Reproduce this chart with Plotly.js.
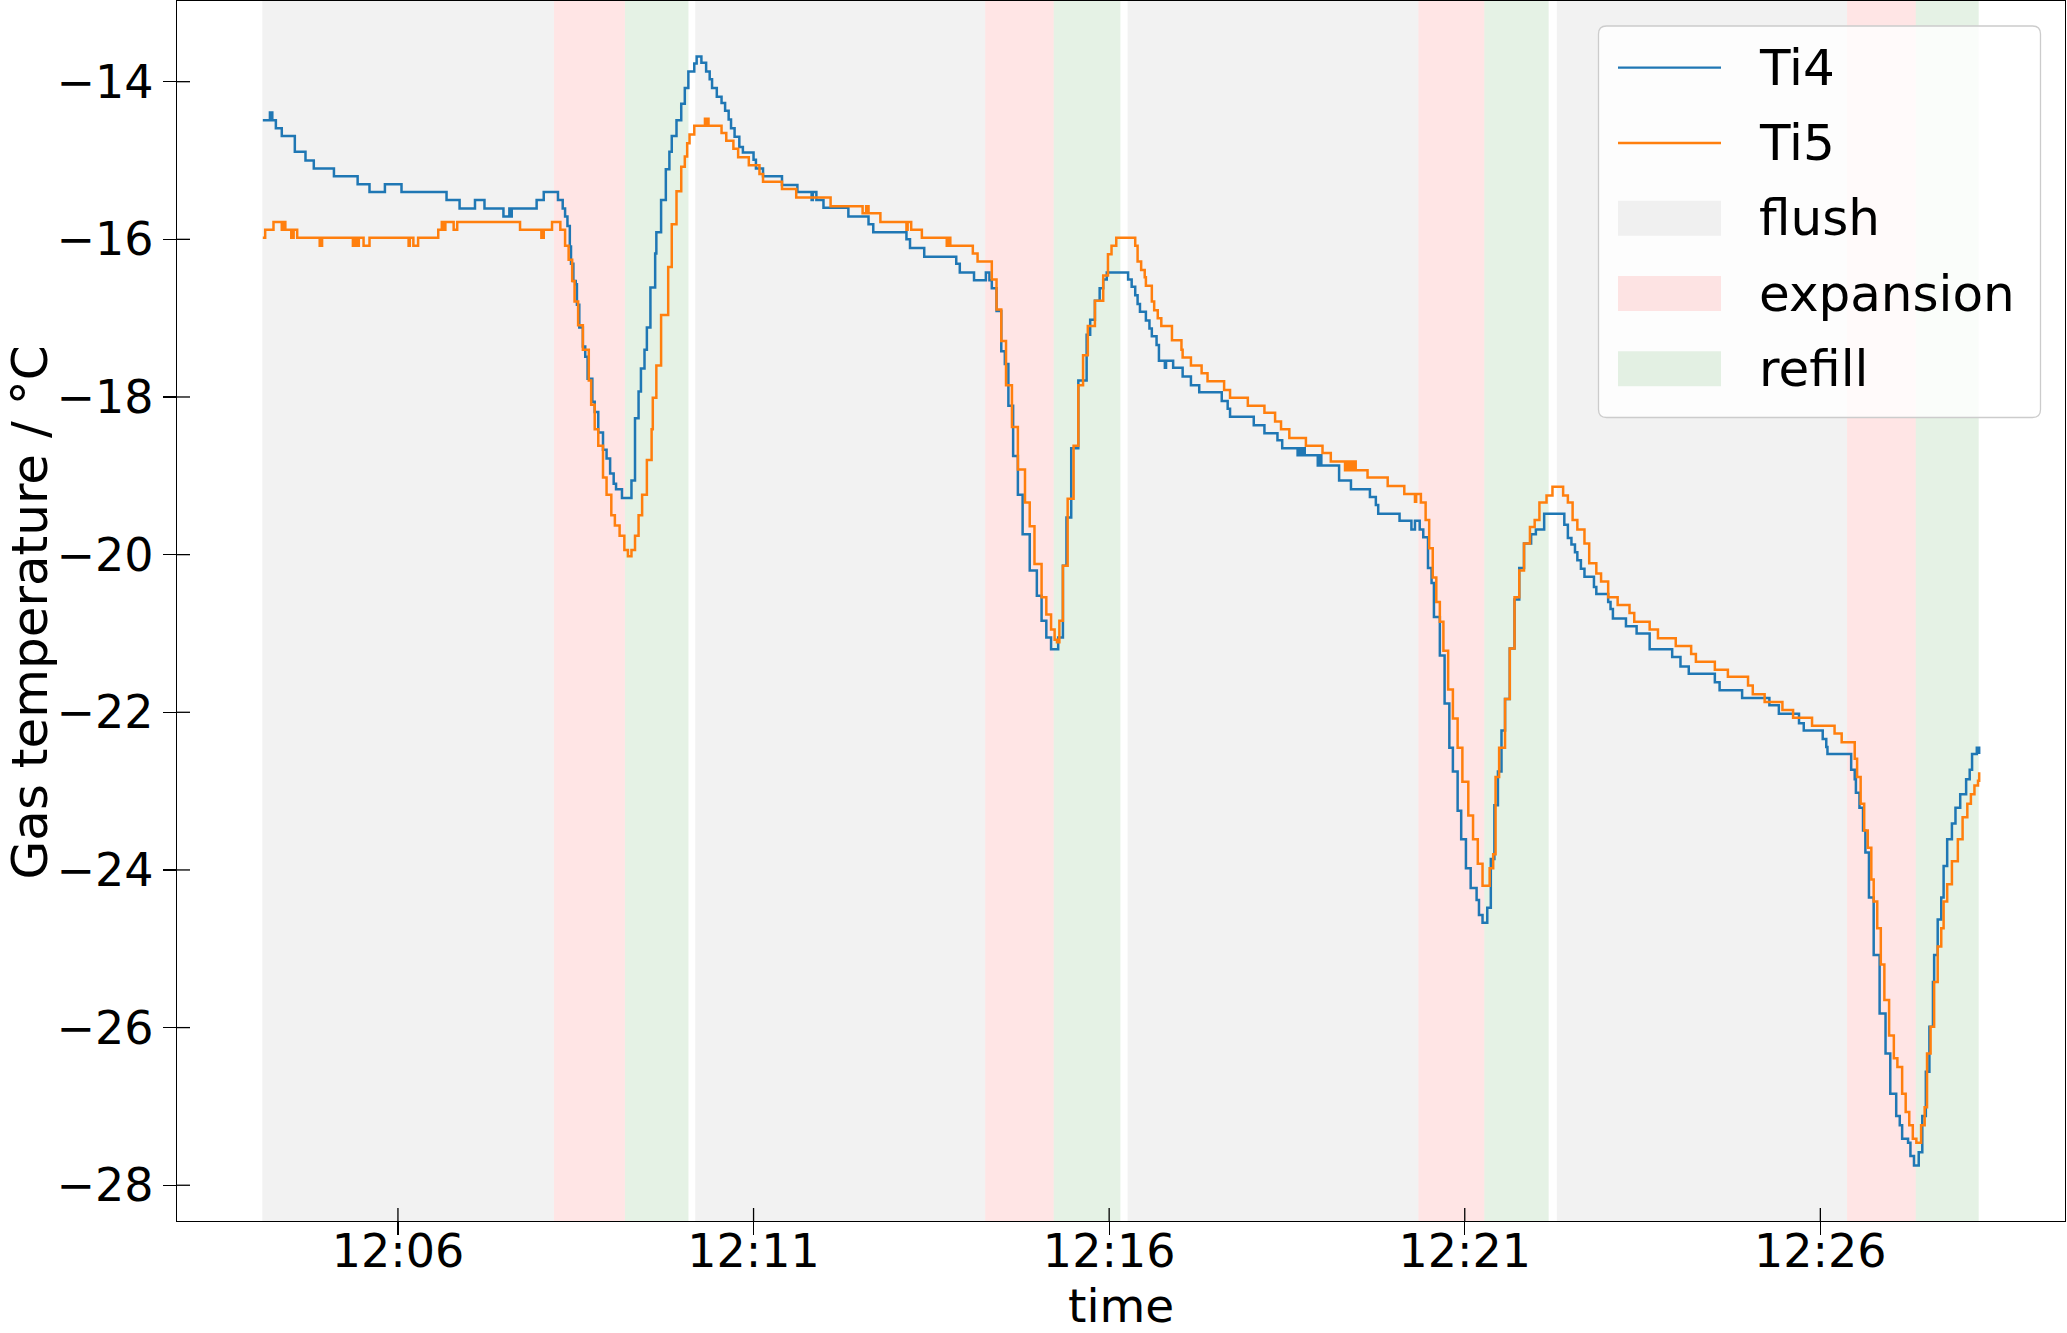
<!DOCTYPE html>
<html>
<head>
<meta charset="utf-8">
<script src="https://cdn.plot.ly/plotly-3.0.1.min.js"></script>
<style>html,body{margin:0;padding:0;background:#fff;}#chart{width:2067px;height:1333px;}</style>
</head>
<body>
<div id="chart"></div>
<script>
// ---------------- DATA (seconds after 12:00:00, temperature in °C) ----------------
const DAY = '2024-01-01';
const seriesNames = ['Ti4', 'Ti5'];
const phaseNames = ['flush', 'expansion', 'refill'];
const xTickLabels = ['12:06', '12:11', '12:16', '12:21', '12:26'];
const yTickValues = [-28, -26, -24, -22, -20, -18, -16, -14];
const xTitle = 'time';
const yTitle = 'Gas temperature / °C';

// phase boundaries (seconds after 12:00)
const flushStart     = [245.6, 610.8, 975.6, 1337.7];
const expansionStart = [491.6, 855.4, 1220.9, 1582.5];
const refillStart    = [551.5, 913.2, 1276.5, 1640.5];
const refillEnd      = [605.1, 969.5, 1330.8, 1693.6];

const ti4Time = [
  246,252,254,257,262,273,282,289,306,326,336,349,363,401,412,425,433,449,454,455,456,477,483,
  495,499,501,503,505,506,508,510,511,513,516,518,520,524,526,529,533,536,539,542,544,549,557,560,563,565,568,570,573,577,578,582,586,589,591,595,599,602,605,610,612,
  616,620,623,625,629,633,636,639,641,644,648,651,660,662,668,684,697,709,710,713,719,740,757,761,789,792,804,831,834,846,856,859,
  861,865,869,872,875,879,883,887,893,899,903,907,911,917,921,924,928,934,941,944,948,952,955,958,
  976,979,982,984,986,991,994,996,1000,1002,1007,1008,1014,1022,1029,1036,1055,1060,1062,1082,1091,1102,1106,1119,1121,1123,1124,1125,1136,1138,1139,1154,1164,1180,1185,1187,1205,1215,1218,1222,1225,
  1229,1232,1234,1239,1243,1247,1250,1254,1257,1261,1265,1270,1272,1275,1279,1282,1285,1288,1291,1294,1298,1302,1306,1310,1316,1320,1327,
  1344,1347,1350,1353,1355,1358,1361,1369,1371,1381,1383,1385,1396,1405,1416,1435,1442,1449,1471,1475,1494,1517,1525,1542,1546,1562,1565,1566,
  1586,1589,1590,1593,1596,1598,1601,1605,1610,1615,1619,1624,1627,1629,1634,1636,1639,1643,1646,1649,1652,1655,1656,1659,1662,1664,1667,1671,1674,1678,1683,1686,1688,1692,1694
];
const ti4Temp = [
  -14.49,-14.39,-14.49,-14.59,-14.69,-14.89,-15.00,-15.10,-15.20,-15.30,-15.40,-15.30,-15.40,-15.50,-15.61,-15.50,-15.61,-15.71,-15.61,-15.71,-15.61,-15.50,-15.40,
  -15.50,-15.61,-15.71,-15.83,-16.09,-16.31,-16.53,-16.57,-16.83,-17.12,-17.36,-17.49,-17.77,-18.06,-18.19,-18.45,-18.67,-18.78,-18.97,-19.10,-19.17,-19.28,-19.06,-18.27,-17.93,-17.64,-17.40,-17.12,-16.61,-16.18,-15.91,-15.50,-15.11,-14.89,-14.69,-14.49,-14.28,-14.08,-13.87,-13.77,-13.68,
  -13.76,-13.87,-13.97,-14.08,-14.19,-14.27,-14.37,-14.48,-14.59,-14.70,-14.83,-14.90,-14.99,-15.10,-15.20,-15.31,-15.40,-15.50,-15.40,-15.50,-15.60,-15.71,-15.81,-15.91,-16.00,-16.11,-16.22,-16.31,-16.42,-16.52,-16.42,-16.52,
  -16.62,-16.91,-17.42,-17.58,-18.11,-18.75,-19.24,-19.74,-20.20,-20.52,-20.84,-21.05,-21.20,-21.05,-20.14,-19.53,-18.65,-17.79,-17.21,-17.02,-16.78,-16.62,-16.51,-16.42,
  -16.51,-16.60,-16.71,-16.82,-16.92,-17.03,-17.13,-17.23,-17.34,-17.54,-17.63,-17.54,-17.63,-17.74,-17.85,-17.94,-18.05,-18.15,-18.25,-18.36,-18.46,-18.55,-18.65,-18.74,-18.65,-18.74,-18.65,-18.74,-18.87,-18.74,-18.87,-19.06,-19.17,-19.27,-19.37,-19.48,-19.57,-19.68,-19.57,-19.68,-19.78,
  -20.17,-20.36,-20.79,-21.28,-21.89,-22.45,-22.75,-23.25,-23.61,-23.98,-24.23,-24.38,-24.57,-24.67,-24.48,-23.86,-23.18,-22.75,-22.23,-21.83,-21.19,-20.57,-20.17,-19.86,-19.74,-19.68,-19.48,
  -19.62,-19.79,-19.87,-19.97,-20.07,-20.18,-20.28,-20.41,-20.50,-20.60,-20.69,-20.81,-20.91,-21.00,-21.20,-21.30,-21.42,-21.51,-21.62,-21.72,-21.82,-21.91,-22.02,-22.14,-22.23,-22.34,-22.44,-22.53,
  -22.73,-22.85,-23.02,-23.21,-23.50,-23.78,-24.35,-25.08,-25.82,-26.33,-26.84,-27.12,-27.24,-27.41,-27.46,-27.63,-27.75,-27.58,-27.12,-26.56,-25.99,-25.42,-25.08,-24.63,-24.35,-23.95,-23.61,-23.41,-23.21,-23.04,-22.85,-22.73,-22.53,-22.45,-22.53
];

const ti5Time = [
  246,248,255,262,263,265,270,272,275,294,296,322,324,325,327,331,336,369,370,373,377,394,397,398,400,407,410,463,481,483,490,
  497,501,504,507,509,512,516,521,523,526,529,533,536,540,543,547,551,554,557,560,563,566,570,574,575,578,582,588,591,595,599,602,604,606,610,619,620,621,622,
  633,637,643,647,656,665,668,684,696,725,752,755,757,767,789,790,793,802,823,824,826,845,849,
  861,865,869,873,878,883,889,893,897,903,907,911,914,916,918,921,925,930,934,938,942,948,955,959,962,966,
  982,984,987,990,991,996,998,1001,1004,1013,1021,1022,1029,1038,1043,1057,1062,1077,1091,1100,1105,1112,1126,1140,1147,1159,1160,1162,1164,1166,1167,1168,1178,1195,1209,1218,1219,1223,
  1227,1230,1233,1236,1239,1242,1246,1250,1254,1258,1263,1267,1271,1275,1281,1284,1286,1289,1294,1298,1302,1306,1310,1315,1319,1323,1329,1334,
  1343,1347,1351,1355,1361,1365,1371,1375,1381,1389,1399,1403,1416,1423,1438,1451,1455,1471,1482,1499,1503,1513,1528,1537,1553,1572,1578,
  1589,1591,1594,1597,1600,1603,1605,1608,1611,1614,1618,1622,1625,1629,1632,1635,1638,1641,1645,1648,1650,1653,1656,1659,1662,1664,1667,1671,1676,1680,1684,1687,1690,1693,1694
];
const ti5Temp = [
  -15.98,-15.88,-15.78,-15.88,-15.78,-15.88,-15.98,-15.88,-15.98,-16.08,-15.98,-16.08,-15.98,-16.08,-15.98,-16.08,-15.98,-16.08,-15.98,-16.08,-15.98,-15.88,-15.78,-15.88,-15.78,-15.88,-15.78,-15.88,-15.98,-15.88,-15.78,
  -15.88,-16.08,-16.26,-16.53,-16.79,-17.09,-17.40,-17.79,-18.10,-18.41,-18.62,-19.02,-19.24,-19.50,-19.63,-19.76,-19.94,-20.02,-19.94,-19.76,-19.50,-19.24,-18.80,-18.41,-18.01,-17.60,-16.96,-16.35,-15.81,-15.39,-15.08,-14.95,-14.78,-14.67,-14.56,-14.47,-14.56,-14.47,-14.56,
  -14.65,-14.75,-14.85,-14.96,-15.06,-15.17,-15.27,-15.36,-15.47,-15.58,-15.67,-15.58,-15.67,-15.78,-15.88,-15.78,-15.88,-15.98,-16.08,-15.98,-16.08,-16.18,-16.28,
  -16.51,-16.89,-17.29,-17.85,-18.38,-18.92,-19.34,-19.64,-20.12,-20.54,-20.76,-20.95,-21.08,-21.11,-20.84,-20.14,-19.29,-18.62,-17.85,-17.47,-17.10,-16.78,-16.46,-16.19,-16.08,-15.98,
  -16.08,-16.28,-16.39,-16.48,-16.59,-16.79,-16.90,-17.00,-17.10,-17.28,-17.40,-17.50,-17.60,-17.70,-17.80,-17.91,-18.01,-18.11,-18.20,-18.31,-18.41,-18.52,-18.62,-18.71,-18.82,-18.93,-18.82,-18.93,-18.82,-18.93,-18.82,-18.93,-19.02,-19.13,-19.23,-19.33,-19.23,-19.34,
  -19.56,-19.92,-20.29,-20.60,-20.85,-21.22,-21.71,-22.08,-22.45,-22.88,-23.31,-23.61,-23.92,-24.20,-23.98,-23.80,-22.82,-22.45,-21.83,-21.19,-20.54,-20.20,-19.86,-19.65,-19.56,-19.34,-19.25,-19.14,
  -19.25,-19.34,-19.56,-19.68,-19.86,-20.11,-20.24,-20.34,-20.54,-20.64,-20.74,-20.85,-20.95,-21.06,-21.16,-21.26,-21.36,-21.46,-21.55,-21.66,-21.77,-21.87,-21.97,-22.07,-22.17,-22.27,-22.38,
  -22.59,-22.82,-23.16,-23.50,-23.72,-24.12,-24.40,-24.74,-25.20,-25.65,-26.10,-26.39,-26.50,-26.84,-27.07,-27.24,-27.41,-27.46,-27.24,-27.01,-26.33,-25.99,-25.42,-24.97,-24.74,-24.40,-24.18,-23.89,-23.61,-23.33,-23.16,-23.04,-22.93,-22.87,-22.76
];

// ---------------- STYLE ----------------
const seriesColors = ['#1f77b4', '#ff7f0e'];
const phaseColors = ['rgba(128,128,128,0.1)', 'rgba(255,0,0,0.1)', 'rgba(0,128,0,0.1)'];
const FONT = 'DejaVu Sans, Liberation Sans, sans-serif';
const W = 2067, H = 1333;
const M = {l: 177, r: 2, t: 1, b: 112};
const PW = W - M.l - M.r, PH = H - M.t - M.b;

if (ti4Time.length !== ti4Temp.length) throw new Error('Ti4 length mismatch ' + ti4Time.length + ' vs ' + ti4Temp.length);
if (ti5Time.length !== ti5Temp.length) throw new Error('Ti5 length mismatch ' + ti5Time.length + ' vs ' + ti5Temp.length);

const BASE = Date.UTC(2024, 0, 1, 12, 0, 0);
function toDate(sec) {
  return new Date(BASE + Math.round(sec * 1000)).toISOString().slice(0, 23).replace('T', ' ');
}

// axis ranges like matplotlib (5% margins around the data)
const allT = ti4Time.concat(ti5Time), allV = ti4Temp.concat(ti5Temp);
const tMin = Math.min(...allT), tMax = Math.max(...allT);
const vMin = Math.min(...allV), vMax = Math.max(...allV);
const tPad = 0.05 * (tMax - tMin), vPad = 0.05 * (vMax - vMin);

const traces = [
  {x: ti4Time.map(toDate), y: ti4Temp, name: seriesNames[0], type: 'scatter', mode: 'lines',
   line: {color: seriesColors[0], width: 2.5, shape: 'hv'}},
  {x: ti5Time.map(toDate), y: ti5Temp, name: seriesNames[1], type: 'scatter', mode: 'lines',
   line: {color: seriesColors[1], width: 2.5, shape: 'hv'}}
];

const shapes = [];
// shaded phases (axvspan)
const phaseIntervals = [
  flushStart.map((s, i) => [s, expansionStart[i]]),
  expansionStart.map((s, i) => [s, refillStart[i]]),
  refillStart.map((s, i) => [s, refillEnd[i]])
];
phaseIntervals.forEach((iv, p) => iv.forEach(([a, b]) => shapes.push({
  type: 'rect', xref: 'x', yref: 'paper', x0: toDate(a), x1: toDate(b), y0: 0, y1: 1,
  fillcolor: phaseColors[p], line: {width: 0}, layer: 'below'
})));

// inner half of the 'inout' ticks
const TL = 13, TW = 1.3;
xTickLabels.forEach(lab => shapes.push({
  type: 'line', xref: 'x', yref: 'paper', x0: DAY + ' ' + lab, x1: DAY + ' ' + lab,
  ysizemode: 'pixel', yanchor: 0, y0: 0, y1: TL, line: {color: 'black', width: TW}, layer: 'above'
}));
yTickValues.forEach(v => shapes.push({
  type: 'line', yref: 'y', xref: 'paper', y0: v, y1: v,
  xsizemode: 'pixel', xanchor: 0, x0: 0, x1: TL, line: {color: 'black', width: TW}, layer: 'above'
}));

// ---------------- custom legend (matplotlib look) ----------------
const px = x => (x - M.l) / PW;        // canvas px -> paper x
const py = y => 1 - (y - M.t) / PH;    // canvas px -> paper y
const LB = {x0: 1598.5, x1: 2040.5, y0: 26, y1: 417.5, r: 8};
const rx = LB.r / PW, ry = LB.r / PH;
const X0 = px(LB.x0), X1 = px(LB.x1), Y0 = py(LB.y0), Y1 = py(LB.y1);
shapes.push({
  type: 'path', xref: 'paper', yref: 'paper', layer: 'above',
  path: `M${X0 + rx},${Y0} L${X1 - rx},${Y0} Q${X1},${Y0} ${X1},${Y0 - ry} L${X1},${Y1 + ry} Q${X1},${Y1} ${X1 - rx},${Y1} ` +
        `L${X0 + rx},${Y1} Q${X0},${Y1} ${X0},${Y1 + ry} L${X0},${Y0 - ry} Q${X0},${Y0} ${X0 + rx},${Y0} Z`,
  fillcolor: 'rgba(255,255,255,0.8)', line: {color: '#cccccc', width: 1.3}
});
const rowY = [67.7, 143, 218.2, 293.5, 368.7];
const hx0 = 1618, hx1 = 1721, patchH = 35, textX = 1757;
const legendLabels = seriesNames.concat(phaseNames);
const annotations = [];
legendLabels.forEach((lab, i) => {
  if (i < 2) {
    shapes.push({type: 'line', xref: 'paper', yref: 'paper', layer: 'above',
      x0: px(hx0), x1: px(hx1), y0: py(rowY[i]), y1: py(rowY[i]),
      line: {color: seriesColors[i], width: 2.3}});
  } else {
    shapes.push({type: 'rect', xref: 'paper', yref: 'paper', layer: 'above',
      x0: px(hx0), x1: px(hx1), y0: py(rowY[i] - patchH / 2), y1: py(rowY[i] + patchH / 2),
      fillcolor: phaseColors[i - 2], line: {width: 0}});
  }
  annotations.push({text: lab, xref: 'paper', yref: 'paper', x: px(textX), y: py(rowY[i]),
    xanchor: 'left', yanchor: 'middle', showarrow: false,
    font: {family: FONT, size: 50, color: 'black'}});
});

// axis titles placed like matplotlib's labels (kept inside the canvas)
annotations.push({text: xTitle, xref: 'paper', yref: 'paper', x: 0.5, y: py(1305),
  xanchor: 'center', yanchor: 'middle', showarrow: false, borderpad: 0,
  font: {family: FONT, size: 47, color: 'black'}});
annotations.push({text: yTitle, xref: 'paper', yref: 'paper', x: px(29.5), y: py(613),
  xanchor: 'center', yanchor: 'middle', textangle: -90, showarrow: false, borderpad: 0,
  font: {family: FONT, size: 50, color: 'black'}});

const layout = {
  width: W, height: H,
  margin: {l: M.l, r: M.r, t: M.t, b: M.b, pad: 0},
  paper_bgcolor: 'white', plot_bgcolor: 'white',
  showlegend: false,
  font: {family: FONT, color: 'black'},
  xaxis: {
    type: 'date', range: [toDate(tMin - tPad), toDate(tMax + tPad)],
    tickmode: 'array', tickvals: xTickLabels.map(l => DAY + ' ' + l), ticktext: xTickLabels,
    ticks: 'outside', ticklen: TL, tickwidth: TW, tickcolor: 'black', ticklabelstandoff: -24,
    showline: true, mirror: true, linecolor: 'black', linewidth: 1.3,
    showgrid: false, zeroline: false,
    tickfont: {family: FONT, size: 46, color: 'black'}
  },
  yaxis: {
    range: [vMin - vPad, vMax + vPad],
    tickmode: 'array', tickvals: yTickValues,
    ticks: 'outside', ticklen: TL, tickwidth: TW, tickcolor: 'black',
    showline: true, mirror: true, linecolor: 'black', linewidth: 1.3,
    showgrid: false, zeroline: false,
    tickfont: {family: FONT, size: 46, color: 'black'}
  },
  shapes: shapes,
  annotations: annotations
};

Plotly.newPlot('chart', traces, layout, {displayModeBar: false, staticPlot: true});
</script>
</body>
</html>
